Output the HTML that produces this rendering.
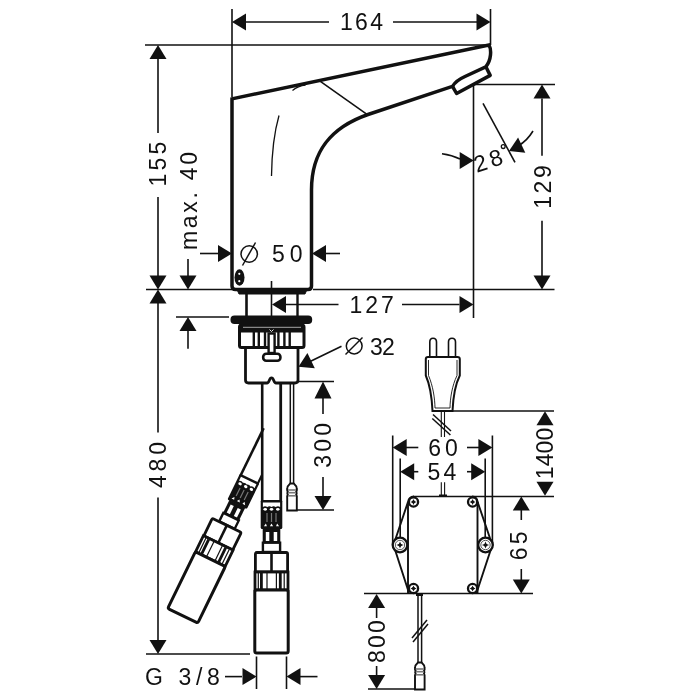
<!DOCTYPE html>
<html><head><meta charset="utf-8"><style>
html,body{margin:0;padding:0;background:#fff;width:700px;height:700px;overflow:hidden}
svg{display:block;filter:grayscale(1)}
text{font-family:"Liberation Sans",sans-serif;fill:#111;stroke:none}
.f{fill:#111;stroke:none}
</style></head><body>
<svg width="700" height="700" viewBox="0 0 700 700" stroke="#111" fill="none" stroke-linecap="butt">
<line x1="232" y1="9" x2="232" y2="97" stroke-width="1.6"/><line x1="490.5" y1="9" x2="490.5" y2="45" stroke-width="1.6"/><polygon class="f" points="232.0,22.0 246.0,13.5 246.0,30.5"/><line x1="246" y1="22" x2="329" y2="22" stroke-width="1.6"/><text id="t164" x="362.70" y="29.73" font-size="23.00" letter-spacing="2.40" text-anchor="middle">164</text><line x1="393" y1="22" x2="477" y2="22" stroke-width="1.6"/><polygon class="f" points="490.5,22.0 476.5,13.5 476.5,30.5"/><line x1="145" y1="45" x2="490" y2="45" stroke-width="1.6"/><polygon class="f" points="158.0,45.0 149.5,59.0 166.5,59.0"/><line x1="158" y1="59" x2="158" y2="133" stroke-width="1.6"/><text id="t155" x="0" y="0" font-size="23.00" letter-spacing="3.20" text-anchor="middle" transform="translate(166.13,162.60) rotate(-90)">155</text><line x1="158" y1="197" x2="158" y2="276" stroke-width="1.6"/><polygon class="f" points="158.0,289.5 149.5,275.5 166.5,275.5"/><line x1="146" y1="289.5" x2="232" y2="289.5" stroke-width="1.6"/><line x1="313" y1="289.5" x2="554.5" y2="289.5" stroke-width="1.6"/><polygon class="f" points="158.0,289.5 149.5,303.5 166.5,303.5"/><line x1="158" y1="303" x2="158" y2="432.5" stroke-width="1.6"/><text id="t480" x="0" y="0" font-size="23.00" letter-spacing="3.80" text-anchor="middle" transform="translate(166.23,463.10) rotate(-90)">480</text><line x1="158" y1="497.5" x2="158" y2="640" stroke-width="1.6"/><polygon class="f" points="158.0,654.0 149.5,640.0 166.5,640.0"/><line x1="146" y1="654" x2="250" y2="654" stroke-width="1.6"/><text id="tmax" x="0" y="0" font-size="23.00" letter-spacing="2.73" text-anchor="middle" transform="translate(196.73,199.63) rotate(-90)">max. 40</text><line x1="188" y1="259" x2="188" y2="276" stroke-width="1.6"/><polygon class="f" points="188.0,289.5 179.5,275.5 196.5,275.5"/><polygon class="f" points="188.0,317.0 179.5,331.0 196.5,331.0"/><line x1="188" y1="331" x2="188" y2="348.7" stroke-width="1.6"/><line x1="176" y1="317" x2="229" y2="317" stroke-width="1.6"/><line x1="200" y1="253.5" x2="218" y2="253.5" stroke-width="1.6"/><polygon class="f" points="232.0,253.5 218.0,245.0 218.0,262.0"/><circle cx="249.2" cy="254" r="8.2" fill="none" stroke-width="1.5"/><line x1="242.5" y1="265.5" x2="255.5" y2="242.5" stroke-width="1.5"/><text id="t50" x="289.70" y="262.23" font-size="23.00" letter-spacing="4.80" text-anchor="middle">50</text><polygon class="f" points="312.0,253.5 326.0,245.0 326.0,262.0"/><line x1="326" y1="253.5" x2="340" y2="253.5" stroke-width="1.6"/><polygon class="f" points="272.0,304.5 286.0,296.0 286.0,313.0"/><line x1="286" y1="304.5" x2="338.5" y2="304.5" stroke-width="1.6"/><text id="t127" x="373.20" y="313.03" font-size="23.00" letter-spacing="3.00" text-anchor="middle">127</text><line x1="402" y1="304.5" x2="459.5" y2="304.5" stroke-width="1.6"/><polygon class="f" points="473.5,304.5 459.5,296.0 459.5,313.0"/><line x1="473.5" y1="85" x2="473.5" y2="318" stroke-width="1.6"/><line x1="474" y1="84.5" x2="555" y2="84.5" stroke-width="1.6"/><polygon class="f" points="542.0,84.5 533.5,98.5 550.5,98.5"/><line x1="542" y1="98.5" x2="542" y2="155.7" stroke-width="1.6"/><text id="t129" x="0" y="0" font-size="23.00" letter-spacing="2.60" text-anchor="middle" transform="translate(550.53,185.70) rotate(-90)">129</text><line x1="542" y1="220.7" x2="542" y2="276" stroke-width="1.6"/><polygon class="f" points="542.0,289.5 533.5,275.5 550.5,275.5"/><line x1="483" y1="103.4" x2="515" y2="162.4" stroke-width="1.6"/><path d="M442,153.7 Q452,155 460,159" stroke-width="1.6" fill="none" /><polygon class="f" points="473.7,160.5 459.7,152.0 459.7,169.0"/><path d="M533,131 Q527,141 518,146" stroke-width="1.6" fill="none" /><polygon class="f" points="509.0,151.0 518.1,137.4 525.3,152.8"/><text id="t28" x="1.75" y="8.23" font-size="23.00" letter-spacing="3.50" text-anchor="middle" transform="translate(488.15,160.30) rotate(-18)">28</text><circle cx="503.2" cy="146.6" r="1.9" fill="none" stroke-width="1.3"/><path d="M232,286 L232,98.8 L489,45 C491.5,49.5 491.5,60 485.8,66.8 L465,76.5 Q456,80.5 452.5,86.3 L368,114.5 C332,127 311.5,150 311.5,190 L311.5,286 Q311.5,289.5 308,289.5 L235.5,289.5 Q232,289.5 232,286 Z" stroke-width="3.5" fill="none" /><path d="M486,67 L490.2,75.4 L456.6,93.5 L452.5,86.3" stroke-width="3.5" fill="none" stroke-linejoin="round"/><line x1="320" y1="81.2" x2="367" y2="114.3" stroke-width="1.6"/><path d="M279,115.5 Q272,140 271.5,176" stroke-width="1.3" fill="none" /><path d="M292.5,90.5 Q298,86 305.5,85.2" stroke-width="1.3" fill="none" /><ellipse class="f" cx="239.5" cy="277.5" rx="5" ry="8.3"/><circle cx="239.3" cy="273.8" r="1.1" fill="#fff" stroke="none"/><circle cx="239.3" cy="281.2" r="1.1" fill="#fff" stroke="none"/><line x1="271.5" y1="281" x2="271.5" y2="316" stroke-width="1.6"/><path d="M237,289.5 L307,289.5 L305,294 L239,294 Z" stroke-width="1" fill="#111" /><line x1="246.5" y1="294" x2="246.5" y2="316" stroke-width="2.6"/><line x1="297.5" y1="294" x2="297.5" y2="316" stroke-width="2.4"/><rect class="f" x="230.5" y="315.4" width="81.7" height="8.6" rx="4"/><rect x="239.5" y="325" width="64.5" height="22.5" rx="2" fill="none" stroke-width="3"/><rect class="f" x="239.5" y="323" width="64.5" height="9.5"/><line x1="243" y1="327.3" x2="301" y2="327.3" stroke="#fff" stroke-width="0.9" stroke-opacity="0.7"/><path d="M269.5,329.5 L271.5,331.5 L273.5,329.5" stroke="#fff" stroke-width="0.9"/><rect class="f" x="252.60000000000002" y="332" width="2.4" height="14"/><rect class="f" x="257.6" y="332" width="2.4" height="14"/><rect class="f" x="263.8" y="332" width="2.4" height="14"/><rect class="f" x="277.2" y="332" width="2.4" height="14"/><rect class="f" x="283.2" y="332" width="2.4" height="14"/><rect class="f" x="288.5" y="332" width="2.4" height="14"/><rect x="268.6" y="333.5" width="6" height="19.5" fill="#fff" stroke-width="2.4"/><rect x="263.2" y="353.8" width="17.2" height="7" rx="3" fill="#fff" stroke-width="2.6"/><path d="M245.5,347.5 L245.5,380 Q245.5,383 248.5,383 L267,383 C269.5,383 269,377.8 271.5,377.8 C274,377.8 273.5,383 276,383 L295,383 Q298,383 298,380 L298,347.5" stroke-width="2.8" fill="none" /><path d="M341.5,346.3 L307,363" stroke-width="1.6" fill="none" /><polygon class="f" points="298.5,366.8 307.4,353.0 314.8,368.3"/><circle cx="354.2" cy="346" r="7.9" fill="none" stroke-width="1.5"/><line x1="345.5" y1="354.5" x2="362.5" y2="337.5" stroke-width="1.5"/><text id="t32" x="382.00" y="354.83" font-size="23.00" letter-spacing="-0.80" text-anchor="middle">32</text><line x1="298" y1="381.5" x2="334" y2="381.5" stroke-width="1.6"/><polygon class="f" points="323.0,381.5 314.5,398.5 331.5,398.5"/><line x1="323" y1="398" x2="323" y2="414" stroke-width="1.6"/><text id="t300" x="0" y="0" font-size="23.00" letter-spacing="3.20" text-anchor="middle" transform="translate(331.23,443.80) rotate(-90)">300</text><line x1="323" y1="477" x2="323" y2="496" stroke-width="1.6"/><polygon class="f" points="323.0,510.0 314.5,496.0 331.5,496.0"/><line x1="294" y1="510" x2="334" y2="510" stroke-width="1.6"/><line x1="290.3" y1="383" x2="290.3" y2="484" stroke-width="1.5"/><line x1="293.6" y1="383" x2="293.6" y2="484" stroke-width="1.5"/><path d="M290.2,483.5 Q287.2,486.0 287.2,489.0 Q286.9,490.8 287.8,491.8 Q286.9,493.3 287.8,494.7 Q286.9,496.3 287.2,497.5 L287.2,510.5 L296.8,510.5 L296.8,497.5 Q297.1,496.3 296.2,494.7 Q297.1,493.3 296.2,491.8 Q297.1,490.8 296.8,489.0 Q296.8,486.0 293.8,483.5 Z" stroke-width="1.9" fill="#fff"/><line x1="288.0" y1="490.0" x2="296.0" y2="490.0" stroke="#777" stroke-width="1.6"/><line x1="288.0" y1="492.7" x2="296.0" y2="492.7" stroke="#777" stroke-width="1.6"/><line x1="288.0" y1="495.8" x2="296.0" y2="495.8" stroke="#777" stroke-width="1.6"/><path d="M429.8,357 L429.8,342 Q429.8,338.3 433,338.3 Q436.5,338.3 436.5,342 L436.5,357" stroke-width="1.6" fill="none" /><path d="M448.5,357 L448.5,342 Q448.5,338.3 452,338.3 Q455.5,338.3 455.5,342 L455.5,357" stroke-width="1.6" fill="none" /><path d="M425.8,375.5 L425.8,359 Q425.8,357 428,357 L457.5,357 Q459.8,357 459.8,359 L459.8,375.5 C455,385 453,400 452.5,411 L432.5,411 C432,400 430,385 425.8,375.5 Z" stroke-width="2.0" fill="none" /><path d="M428.5,360 L428.5,375.5 C433,386 434.8,398 435,408 L450,408 C450.2,398 452,386 457,375.5 L457,360" stroke-width="0.9" fill="none" /><line x1="452.5" y1="411" x2="554" y2="411" stroke-width="1.6"/><line x1="441.3" y1="411" x2="441.3" y2="437" stroke-width="1.1"/><line x1="444.5" y1="411" x2="444.5" y2="437" stroke-width="1.1"/><line x1="433" y1="414.5" x2="451" y2="431" stroke-width="1.5"/><line x1="432.3" y1="418.5" x2="450.4" y2="435" stroke-width="1.5"/><polygon class="f" points="545.0,411.3 536.5,425.3 553.5,425.3"/><text id="t1400" x="0" y="0" font-size="23.00" letter-spacing="0.07" text-anchor="middle" transform="translate(553.23,453.47) rotate(-90)">1400</text><polygon class="f" points="545.0,495.8 536.5,481.8 553.5,481.8"/><line x1="392.7" y1="435.5" x2="392.7" y2="545" stroke-width="1.6"/><line x1="492.4" y1="435.5" x2="492.4" y2="545" stroke-width="1.6"/><polygon class="f" points="392.7,447.5 406.7,439.0 406.7,456.0"/><line x1="406" y1="447.5" x2="418.3" y2="447.5" stroke-width="1.6"/><text id="t60" x="445.00" y="456.13" font-size="23.00" letter-spacing="4.00" text-anchor="middle">60</text><line x1="467" y1="447.5" x2="480" y2="447.5" stroke-width="1.6"/><polygon class="f" points="492.4,447.5 478.4,439.0 478.4,456.0"/><line x1="400.2" y1="458.5" x2="400.2" y2="545" stroke-width="1.6"/><line x1="485.2" y1="458.5" x2="485.2" y2="545" stroke-width="1.6"/><polygon class="f" points="400.2,471.7 414.2,463.2 414.2,480.2"/><line x1="414" y1="471.7" x2="418.3" y2="471.7" stroke-width="1.6"/><text id="t54" x="443.60" y="479.93" font-size="23.00" letter-spacing="3.20" text-anchor="middle">54</text><line x1="467" y1="471.7" x2="472" y2="471.7" stroke-width="1.6"/><polygon class="f" points="485.2,471.7 471.2,463.2 471.2,480.2"/><line x1="441.3" y1="482.3" x2="441.3" y2="495" stroke-width="1.1"/><line x1="444.6" y1="482.3" x2="444.6" y2="495" stroke-width="1.1"/><line x1="413" y1="496.5" x2="554" y2="496.5" stroke-width="1.6"/><line x1="364" y1="593.5" x2="533" y2="593.5" stroke-width="1.6"/><line x1="408" y1="502" x2="408" y2="593.5" stroke-width="1.9"/><line x1="477.5" y1="502" x2="477.5" y2="593.5" stroke-width="1.9"/><path d="M414,496.5 Q408.5,496.8 407.8,502.5 L393.5,545 L409,593" stroke-width="1.9" fill="none" /><path d="M472,496.5 Q477.2,496.8 477.8,502.5 L492.3,545 L476.5,593" stroke-width="1.9" fill="none" /><circle cx="413.5" cy="502" r="4.6" fill="#fff" stroke-width="2.3"/><path d="M410.5,502 L412.6,501.1 L413.5,499 L414.4,501.1 L416.5,502 L414.4,502.9 L413.5,505 L412.6,502.9 Z" class="f"/><circle cx="413.5" cy="502" r="1.4" class="f"/><circle cx="472.6" cy="502" r="4.6" fill="#fff" stroke-width="2.3"/><path d="M469.6,502 L471.70000000000005,501.1 L472.6,499 L473.5,501.1 L475.6,502 L473.5,502.9 L472.6,505 L471.70000000000005,502.9 Z" class="f"/><circle cx="472.6" cy="502" r="1.4" class="f"/><circle cx="413.5" cy="588.5" r="4.6" fill="#fff" stroke-width="2.3"/><path d="M410.5,588.5 L412.6,587.6 L413.5,585.5 L414.4,587.6 L416.5,588.5 L414.4,589.4 L413.5,591.5 L412.6,589.4 Z" class="f"/><circle cx="413.5" cy="588.5" r="1.4" class="f"/><circle cx="472.6" cy="588.5" r="4.6" fill="#fff" stroke-width="2.3"/><path d="M469.6,588.5 L471.70000000000005,587.6 L472.6,585.5 L473.5,587.6 L475.6,588.5 L473.5,589.4 L472.6,591.5 L471.70000000000005,589.4 Z" class="f"/><circle cx="472.6" cy="588.5" r="1.4" class="f"/><circle cx="400" cy="545" r="7.3" fill="#fff" stroke-width="2.3"/><circle cx="400" cy="545" r="4.7" fill="none" stroke="#555" stroke-width="1"/><path d="M396.4,545 L399,544 L400,541.4 L401,544 L403.6,545 L401,546 L400,548.6 L399,546 Z" class="f"/><circle cx="400" cy="545" r="1.6" class="f"/><circle cx="485.5" cy="545" r="7.3" fill="#fff" stroke-width="2.3"/><circle cx="485.5" cy="545" r="4.7" fill="none" stroke="#555" stroke-width="1"/><path d="M481.9,545 L484.5,544 L485.5,541.4 L486.5,544 L489.1,545 L486.5,546 L485.5,548.6 L484.5,546 Z" class="f"/><circle cx="485.5" cy="545" r="1.6" class="f"/><rect class="f" x="439" y="494.5" width="8" height="2.5"/><polygon class="f" points="521.3,496.5 512.8,510.5 529.8,510.5"/><line x1="521.3" y1="510" x2="521.3" y2="520" stroke-width="1.6"/><text id="t65" x="0" y="0" font-size="23.00" letter-spacing="3.20" text-anchor="middle" transform="translate(527.13,544.30) rotate(-90)">65</text><line x1="521.3" y1="569" x2="521.3" y2="580" stroke-width="1.6"/><polygon class="f" points="521.3,593.5 512.8,579.5 529.8,579.5"/><polygon class="f" points="376.6,594.0 368.1,608.0 385.1,608.0"/><line x1="376.6" y1="608" x2="376.6" y2="618" stroke-width="1.6"/><text id="t800" x="0" y="0" font-size="23.00" letter-spacing="2.20" text-anchor="middle" transform="translate(384.73,640.60) rotate(-90)">800</text><line x1="376.6" y1="666" x2="376.6" y2="676" stroke-width="1.6"/><polygon class="f" points="376.6,689.0 368.1,675.0 385.1,675.0"/><line x1="368" y1="689" x2="424" y2="689" stroke-width="1.6"/><rect class="f" x="416" y="593.5" width="7" height="2.5"/><line x1="418" y1="595" x2="418" y2="663" stroke-width="1.5"/><line x1="421.6" y1="595" x2="421.6" y2="663" stroke-width="1.5"/><line x1="412" y1="638" x2="427" y2="620" stroke-width="1.5"/><line x1="413" y1="642" x2="428" y2="624" stroke-width="1.5"/><path d="M418.0,662.5 Q415.0,665.0 415.0,668.0 Q414.7,669.8 415.6,670.8 Q414.7,672.3 415.6,673.7 Q414.7,675.3 415.0,676.5 L415.0,689.5 L424.6,689.5 L424.6,676.5 Q424.90000000000003,675.3 424.0,673.7 Q424.90000000000003,672.3 424.0,670.8 Q424.90000000000003,669.8 424.6,668.0 Q424.6,665.0 421.6,662.5 Z" stroke-width="1.9" fill="#fff"/><line x1="415.8" y1="669.0" x2="423.8" y2="669.0" stroke="#777" stroke-width="1.6"/><line x1="415.8" y1="671.7" x2="423.8" y2="671.7" stroke="#777" stroke-width="1.6"/><line x1="415.8" y1="674.8" x2="423.8" y2="674.8" stroke="#777" stroke-width="1.6"/><line x1="256.5" y1="656.5" x2="256.5" y2="689" stroke-width="1.6"/><line x1="286.5" y1="656.5" x2="286.5" y2="689" stroke-width="1.6"/><line x1="225" y1="676.6" x2="242" y2="676.6" stroke-width="1.6"/><polygon class="f" points="256.5,676.6 242.5,668.1 242.5,685.1"/><polygon class="f" points="286.5,676.6 300.5,668.1 300.5,685.1"/><line x1="300" y1="676.6" x2="317.5" y2="676.6" stroke-width="1.6"/><text id="tg" x="184.70" y="685.43" font-size="23.00" letter-spacing="4.60" text-anchor="middle">G 3/8</text><g transform="translate(271.5,383)"><path d="M-9.3,0 L-9.3,119" stroke-width="2.6"/><path d="M9.2,0 L9.2,119" stroke-width="2.8"/><rect x="-10.8" y="117" width="21.6" height="29" rx="1.5" class="f"/><path d="M-8.6,119.5 H8.6 V124 Q6.5,122.5 4.2,124 Q2,122.5 0,124 Q-2,122.5 -4.2,124 Q-6.5,122.5 -8.6,124 Z" fill="#fff" stroke="none"/><ellipse cx="-6.3" cy="126.3" rx="1.8" ry="1.4" fill="#fff" stroke="none"/><ellipse cx="0" cy="126.3" rx="1.8" ry="1.4" fill="#fff" stroke="none"/><ellipse cx="6.3" cy="126.3" rx="1.8" ry="1.4" fill="#fff" stroke="none"/><path d="M-7.6,143.2 L-5.6,140.5 L-4.6,143.2 Z M-1.6,143.2 L0,140.5 L1.6,143.2 Z M4.6,143.2 L5.6,140.5 L7.6,143.2 Z" fill="#fff" stroke="none"/><path d="M-4.5,130 V139 M0,130 V139 M4.5,130 V139" stroke="#777" stroke-width="1.2"/><rect x="-8.8" y="145.5" width="17.6" height="14.2" class="f"/><rect x="-5.7" y="149" width="3.5" height="9" fill="#fff" stroke="none"/><rect x="2.2" y="149" width="3.5" height="9" fill="#fff" stroke="none"/><rect x="-8.6" y="159.7" width="17.2" height="9.3" fill="#fff" stroke-width="2.4"/><rect x="-16.1" y="169.5" width="32.2" height="19.5" rx="1.5" fill="#fff" stroke-width="2.8"/><path d="M0,170 V189" stroke-width="2.6"/><rect x="-16.5" y="189" width="33" height="18" fill="#fff" stroke-width="2.8"/><path d="M-10.1,190 V206 M8.8,190 V206" stroke-width="2.8"/><path d="M-13.2,190 V206 M-4.5,190 V206 M4.9,190 V206 M12.7,190 V206" stroke-width="1.2"/><rect x="-16.7" y="207" width="33.4" height="63" rx="2" fill="#fff" stroke-width="3"/></g><g transform="translate(301.1,373.1) rotate(26)"><path d="M-9.5,66 L-9.5,120" stroke-width="2.6"/><path d="M9.5,109 L9.5,120" stroke-width="2.2"/><rect x="-10.8" y="117" width="21.6" height="29" rx="1.5" class="f"/><path d="M-8.6,119.5 H8.6 V124 Q6.5,122.5 4.2,124 Q2,122.5 0,124 Q-2,122.5 -4.2,124 Q-6.5,122.5 -8.6,124 Z" fill="#fff" stroke="none"/><ellipse cx="-6.3" cy="126.3" rx="1.8" ry="1.4" fill="#fff" stroke="none"/><ellipse cx="0" cy="126.3" rx="1.8" ry="1.4" fill="#fff" stroke="none"/><ellipse cx="6.3" cy="126.3" rx="1.8" ry="1.4" fill="#fff" stroke="none"/><path d="M-7.6,143.2 L-5.6,140.5 L-4.6,143.2 Z M-1.6,143.2 L0,140.5 L1.6,143.2 Z M4.6,143.2 L5.6,140.5 L7.6,143.2 Z" fill="#fff" stroke="none"/><path d="M-4.5,130 V139 M0,130 V139 M4.5,130 V139" stroke="#777" stroke-width="1.2"/><rect x="-8.8" y="145.5" width="17.6" height="14.2" class="f"/><rect x="-5.7" y="149" width="3.5" height="9" fill="#fff" stroke="none"/><rect x="2.2" y="149" width="3.5" height="9" fill="#fff" stroke="none"/><rect x="-8.6" y="159.7" width="17.2" height="9.3" fill="#fff" stroke-width="2.4"/><rect x="-16.1" y="169.5" width="32.2" height="19.5" rx="1.5" fill="#fff" stroke-width="2.8"/><path d="M0,170 V189" stroke-width="2.6"/><rect x="-16.5" y="189" width="33" height="18" fill="#fff" stroke-width="2.8"/><path d="M-10.1,190 V206 M8.8,190 V206" stroke-width="2.8"/><path d="M-13.2,190 V206 M-4.5,190 V206 M4.9,190 V206 M12.7,190 V206" stroke-width="1.2"/><rect x="-16.7" y="207" width="33.4" height="63" rx="2" fill="#fff" stroke-width="3"/></g>
</svg></body></html>
